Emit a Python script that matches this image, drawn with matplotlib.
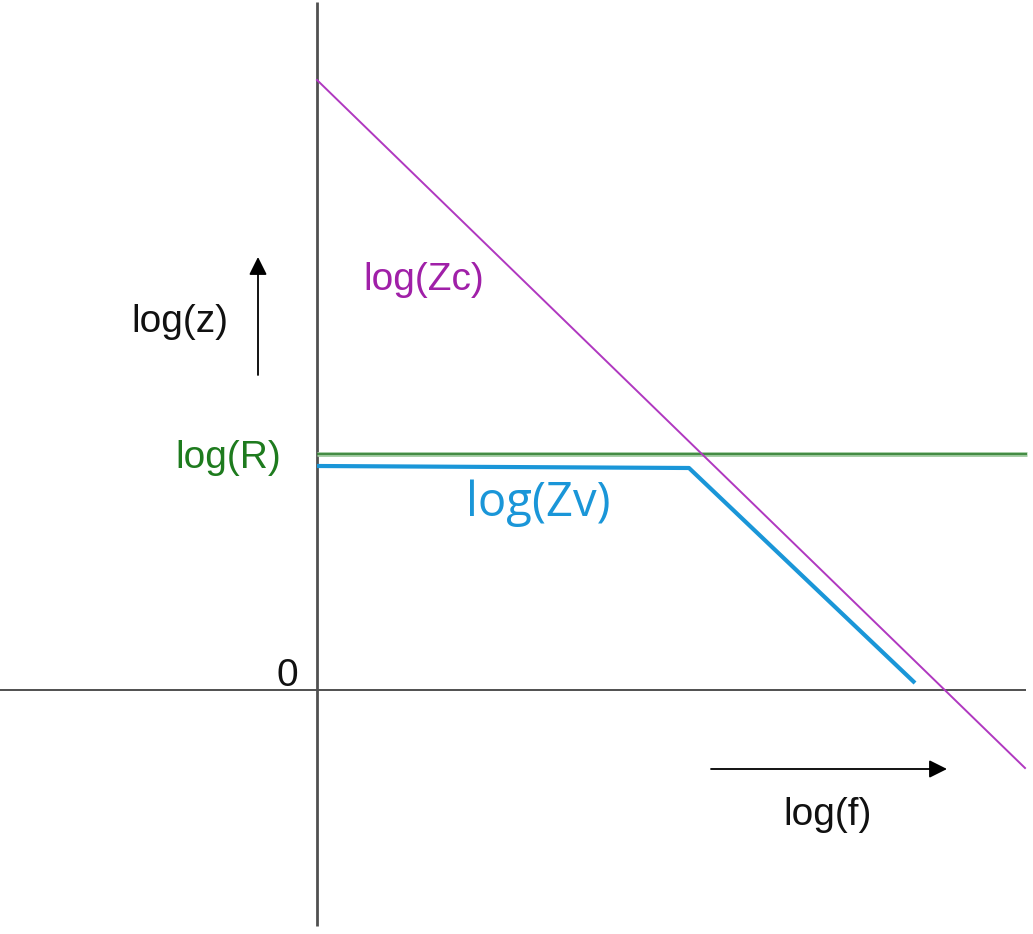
import numpy as np
import matplotlib.pyplot as plt
from matplotlib.patches import FancyArrowPatch

plt.rcParams['font.family'] = ['Liberation Sans', 'DejaVu Sans']

# data, in decades (origin = where the axes cross)
zc_f = [0.0, 7.08]
zc_z = [6.10, -0.78]

r_f = [0.0, 7.10]
r_z = [2.36, 2.36]

zv_f = [0.0, 3.72, 5.98]
zv_z = [2.24, 2.22, 0.07]

labels = ['log(z)', 'log(f)', 'log(Zc)', 'log(R)', 'log(Zv)', '0']

fig = plt.figure(figsize=(10.33, 9.34), dpi=100)
ax = fig.add_axes([0, 0, 1, 1])
ax.set_xlim(-3.17, 7.16)
ax.set_ylim(-2.44, 6.90)
ax.axis('off')

# axes lines
ax.plot([0, 0], [-2.36, 6.88], color='#505050', lw=2.0, solid_capstyle='butt')
ax.plot([-3.17, 7.09], [0, 0], color='#505050', lw=1.4, solid_capstyle='butt')

# curves
ax.plot(r_f, r_z, color='#9cc89c', lw=3.4, solid_capstyle='butt')
ax.plot(r_f, r_z, color='#2a7a2a', lw=1.1, solid_capstyle='butt')
ax.plot(zc_f, zc_z, color='#b038c0', lw=1.4)
ax.plot(zv_f, zv_z, color='#1a96d8', lw=3.0, solid_capstyle='butt')

# direction arrows
for p0, p1 in [((-0.59, 3.15), (-0.59, 4.33)), ((3.94, -0.79), (6.30, -0.79))]:
    ax.add_patch(FancyArrowPatch(p0, p1, arrowstyle='-|>', mutation_scale=27,
                                 color='#000000', lw=1.3, shrinkA=0, shrinkB=0))

ax.text(-1.37, 3.68, labels[0], fontsize=28, color='#111111', ha='center', va='center')
ax.text(5.11, -1.25, labels[1], fontsize=28, color='#111111', ha='center', va='center')
ax.text(1.07, 4.10, labels[2], fontsize=28, color='#a020a8', ha='center', va='center')
ax.text(-0.89, 2.32, labels[3], fontsize=28, color='#1e7b1e', ha='center', va='center')
ax.text(2.21, 1.87, labels[4], fontsize=34, color='#1a96d8', ha='center', va='center',
        family=['Open Sans', 'DejaVu Sans'])
ax.text(-0.30, 0.14, labels[5], fontsize=28, color='#111111', ha='center', va='center')

fig.savefig('out.png', dpi=100)
